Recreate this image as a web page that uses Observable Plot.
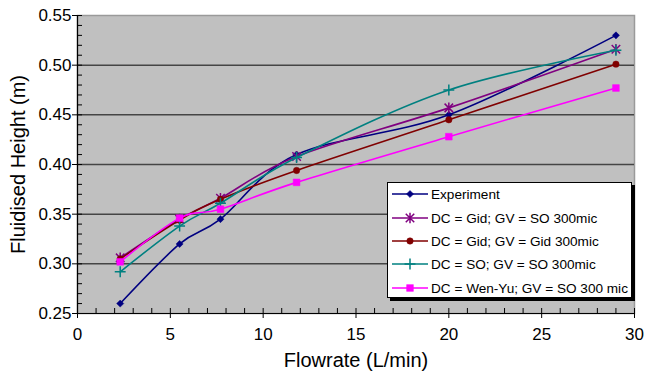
<!DOCTYPE html>
<html>
<head>
<meta charset="utf-8">
<script src="https://cdn.jsdelivr.net/npm/d3@7"></script>
<script src="https://cdn.jsdelivr.net/npm/@observablehq/plot@0.6"></script>
<style>
  body { margin: 0; background: #fff; font-family: "Liberation Sans", Arial, sans-serif; }
  #chart { position: relative; width: 646px; height: 376px; }
  #legend {
    position: absolute; left: 387px; top: 182px; width: 245px; height: 116px;
    background: #fff; border: 1px solid #000; box-shadow: 3px 3px 0 #000; box-sizing: border-box;
  }
  #legend svg { display: block; }
</style>
</head>
<body>
<div id="chart"><div id="legend"></div></div>
<script>
// Flow rates (L/min) at which the bed height was measured / predicted
const flowrate = [2.3, 5.5, 7.7, 11.8, 20, 29];

// Fluidised bed height (m) for each series
const experiment = [0.260, 0.320, 0.345, 0.410, 0.450, 0.530];
const gidSO      = [0.306, 0.345, 0.366, 0.408, 0.457, 0.516];
const gidGid     = [0.305, 0.344, 0.365, 0.394, 0.445, 0.501];
const soSO       = [0.292, 0.338, 0.361, 0.407, 0.475, 0.515];
const wenYuSO    = [0.302, 0.346, 0.355, 0.382, 0.428, 0.477];

const seriesNames = [
  "Experiment",
  "DC = Gid; GV = SO 300mic",
  "DC = Gid; GV = Gid 300mic",
  "DC = SO; GV = SO 300mic",
  "DC = Wen-Yu; GV = SO 300 mic"
];
const seriesValues = [experiment, gidSO, gidGid, soSO, wenYuSO];
const seriesColors = ["#000080", "#800080", "#800000", "#008080", "#ff00ff"];

const xTicks = [0, 5, 10, 15, 20, 25, 30];
const yTicks = [0.25, 0.30, 0.35, 0.40, 0.45, 0.50, 0.55];
const xTitle = "Flowrate (L/min)";
const yTitle = "Fluidised Height (m)";

// Excel-style star marker: an X crossed by a vertical stroke
const starSymbol = {
  draw(ctx, size) {
    const r = Math.sqrt(size / Math.PI);
    const d = r * 0.8;
    ctx.moveTo(-d, -d); ctx.lineTo(d, d);
    ctx.moveTo(-d, d); ctx.lineTo(d, -d);
    ctx.moveTo(0, -r); ctx.lineTo(0, r);
  }
};

const markers = [
  {plot: "diamond2", d3: d3.symbolDiamond2, r: 3.2, filled: true},
  {plot: starSymbol, d3: starSymbol, r: 5.3, filled: false},
  {plot: "circle", d3: d3.symbolCircle, r: 3.2, filled: true},
  {plot: "plus", d3: d3.symbolPlus, r: 3.6, filled: false},
  {plot: "square", d3: d3.symbolSquare, r: 3.8, filled: true}
];

const rows = seriesNames.flatMap((name, i) =>
  flowrate.map((x, j) => ({series: name, x, y: seriesValues[i][j]}))
);

const xDomain = [xTicks[0], xTicks[xTicks.length - 1]];
const yDomain = [yTicks[0], yTicks[yTicks.length - 1]];
const xMinor = d3.range(xDomain[0], xDomain[1] + 0.5, 1).filter(v => !xTicks.includes(v));
const yMinor = d3.range(0, 31).map(i => +(yDomain[0] + i * 0.01).toFixed(2)).filter(v => !yTicks.some(t => Math.abs(t - v) < 1e-9));
const gridTicks = yTicks.slice(1, -1);

const seriesMarks = seriesNames.flatMap((name, i) => {
  const data = rows.filter(d => d.series === name);
  const m = markers[i];
  return [
    Plot.line(data, {x: "x", y: "y", stroke: seriesColors[i], strokeWidth: 1.6, curve: "cardinal"}),
    Plot.dot(data, {
      x: "x", y: "y", symbol: () => m.plot, r: m.r,
      fill: m.filled ? seriesColors[i] : "none",
      stroke: seriesColors[i], strokeWidth: m.filled ? 0.5 : 1.5
    })
  ];
});

const chart = Plot.plot({
  width: 646,
  height: 376,
  marginLeft: 77,
  marginRight: 12,
  marginTop: 15,
  marginBottom: 63,
  style: {fontFamily: '"Liberation Sans", Arial, sans-serif', fontSize: "16px", background: "transparent", color: "#000"},
  x: {domain: xDomain, label: null},
  y: {domain: yDomain, label: null},
  symbol: {type: "identity"},
  marks: [
    Plot.frame({fill: "#c0c0c0", stroke: "#9a9a9a", strokeWidth: 1.5}),
    Plot.gridY(gridTicks, {stroke: "#454545", strokeOpacity: 1, strokeWidth: 1.5}),
    ...seriesMarks,
    Plot.ruleX([xDomain[0]], {stroke: "#000", strokeWidth: 1.2}),
    Plot.ruleY([yDomain[0]], {stroke: "#000", strokeWidth: 1.2}),
    Plot.axisY(yTicks, {tickSize: 10, dx: 5, fill: "none", label: null}),
    Plot.axisY(yMinor, {tickSize: 5, dx: 5, fill: "none", label: null}),
    Plot.axisY(yTicks, {tickSize: 0, tickPadding: 6, tickFormat: d3.format(".2f"), fontSize: 17, label: null}),
    Plot.axisX(xTicks, {tickSize: 10, dy: -5, fill: "none", label: null}),
    Plot.axisX(xMinor, {tickSize: 5, dy: -5, fill: "none", label: null}),
    Plot.axisX(xTicks, {tickSize: 0, tickPadding: 14, fontSize: 17, label: null}),
    Plot.text([xTitle], {text: d => d, frameAnchor: "bottom", dy: 47, fontSize: 20, textAnchor: "middle", lineAnchor: "middle"}),
    Plot.text([yTitle], {text: d => d, frameAnchor: "left", dx: -59, rotate: -90, fontSize: 20, textAnchor: "middle"})
  ]
});

const host = document.getElementById("chart");
host.insertBefore(chart, host.firstChild);

// Legend drawn inside the plot area, over the lower-right corner
const legend = d3.select("#legend").append("svg").attr("width", 243).attr("height", 114);
const rowY = [11, 35, 58, 81, 105];
seriesNames.forEach((name, i) => {
  const g = legend.append("g").attr("transform", `translate(0,${rowY[i]})`);
  g.append("line").attr("x1", 4).attr("x2", 40).attr("y1", 0).attr("y2", 0)
    .attr("stroke", seriesColors[i]).attr("stroke-width", 1.6);
  const m = markers[i];
  g.append("path")
    .attr("transform", "translate(22,0)")
    .attr("d", d3.symbol(m.d3, Math.PI * m.r * m.r)())
    .attr("fill", m.filled ? seriesColors[i] : "none")
    .attr("stroke", seriesColors[i])
    .attr("stroke-width", m.filled ? 0.5 : 1.5);
  g.append("text").attr("x", 43).attr("y", 0).attr("dy", "0.35em")
    .attr("font-size", 13.6).attr("fill", "#000").text(name);
});
</script>
</body>
</html>
